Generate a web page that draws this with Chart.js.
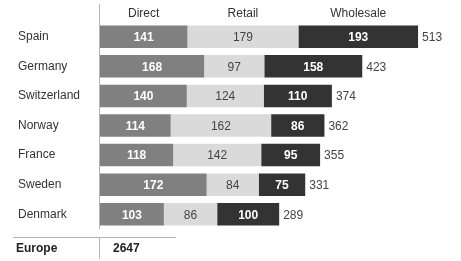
<!DOCTYPE html>
<html>
<head>
<meta charset="utf-8">
<script src="https://cdn.jsdelivr.net/npm/chart.js@4"></script>
<style>
  html, body { margin: 0; padding: 0; background: #fff; }
  #wrap { width: 461px; height: 261px; position: relative; }
</style>
</head>
<body>
<div id="wrap"><canvas id="chart"></canvas></div>
<script>
// datos
const countries = ["Spain", "Germany", "Switzerland", "Norway", "France", "Sweden", "Denmark"];
const seriesNames = ["Direct", "Retail", "Wholesale"];
const direct    = [141, 168, 140, 114, 118, 172, 103];
const retail    = [179,  97, 124, 162, 142,  84,  86];
const wholesale = [193, 158, 110,  86,  95,  75, 100];
const footerLabel = "Europe";

const FONT = "'Liberation Sans', Arial, sans-serif";
const colors = ["#808080", "#dadada", "#333333"];
const labelColors = ["#ffffff", "#444444", "#ffffff"];
const labelWeights = ["bold", "normal", "bold"];

const totals = countries.map((c, i) => direct[i] + retail[i] + wholesale[i]);
const grandTotal = totals.reduce((a, b) => a + b, 0);

// etiquetas, encabezados y pie
const labelsPlugin = {
  id: "labels",
  afterDatasetsDraw(chart) {
    const ctx = chart.ctx;
    const area = chart.chartArea;
    ctx.save();
    ctx.textBaseline = "middle";

    // valores dentro de las barras
    chart.data.datasets.forEach((ds, di) => {
      const meta = chart.getDatasetMeta(di);
      meta.data.forEach((bar, i) => {
        const p = bar.getProps(["x", "base", "y"], true);
        ctx.font = labelWeights[di] + " 12px " + FONT;
        ctx.fillStyle = labelColors[di];
        ctx.textAlign = "center";
        ctx.fillText(ds.data[i], (p.x + p.base) / 2, p.y + 1);
        // encabezados sobre la primera fila
        if (i === 0) {
          ctx.font = "12px " + FONT;
          ctx.fillStyle = "#333";
          ctx.fillText(ds.label, (p.x + p.base) / 2, 14);
        }
      });
    });

    // totales
    const last = chart.getDatasetMeta(chart.data.datasets.length - 1);
    last.data.forEach((bar, i) => {
      const p = bar.getProps(["x", "y"], true);
      ctx.font = "12px " + FONT;
      ctx.fillStyle = "#444";
      ctx.textAlign = "left";
      ctx.fillText(totals[i], p.x + 4, p.y + 1);
    });

    // líneas
    ctx.strokeStyle = "#b4b4b4";
    ctx.lineWidth = 1;
    const lx = Math.round(area.left) - 0.5;
    ctx.beginPath();
    ctx.moveTo(lx, 4);
    ctx.lineTo(lx, area.bottom);
    ctx.moveTo(lx, 238);
    ctx.lineTo(lx, 259);
    ctx.moveTo(13, 237.5);
    ctx.lineTo(176, 237.5);
    ctx.stroke();

    // pie
    ctx.font = "bold 12px " + FONT;
    ctx.fillStyle = "#222";
    ctx.textAlign = "left";
    ctx.fillText(footerLabel, 16, 249);
    ctx.fillText(grandTotal, 113, 249);
    ctx.restore();
  }
};

new Chart(document.getElementById("chart"), {
  type: "bar",
  data: {
    labels: countries,
    datasets: [direct, retail, wholesale].map((d, i) => ({
      label: seriesNames[i],
      data: d,
      backgroundColor: colors[i],
      borderWidth: 0,
      categoryPercentage: 1,
      barPercentage: 0.76
    }))
  },
  options: {
    indexAxis: "y",
    responsive: true,
    maintainAspectRatio: false,
    animation: false,
    layout: { padding: { left: 18, top: 22, bottom: 32, right: 20 } },
    plugins: { legend: { display: false }, tooltip: { enabled: false } },
    scales: {
      x: { stacked: true, display: false, min: 0, max: 550 },
      y: {
        stacked: true,
        grid: { display: false },
        border: { display: false },
        ticks: { color: "#333", font: { size: 12, family: FONT }, crossAlign: "far", padding: 0 },
        afterFit(scale) { scale.width = 82; }
      }
    }
  },
  plugins: [labelsPlugin]
});
</script>
</body>
</html>
